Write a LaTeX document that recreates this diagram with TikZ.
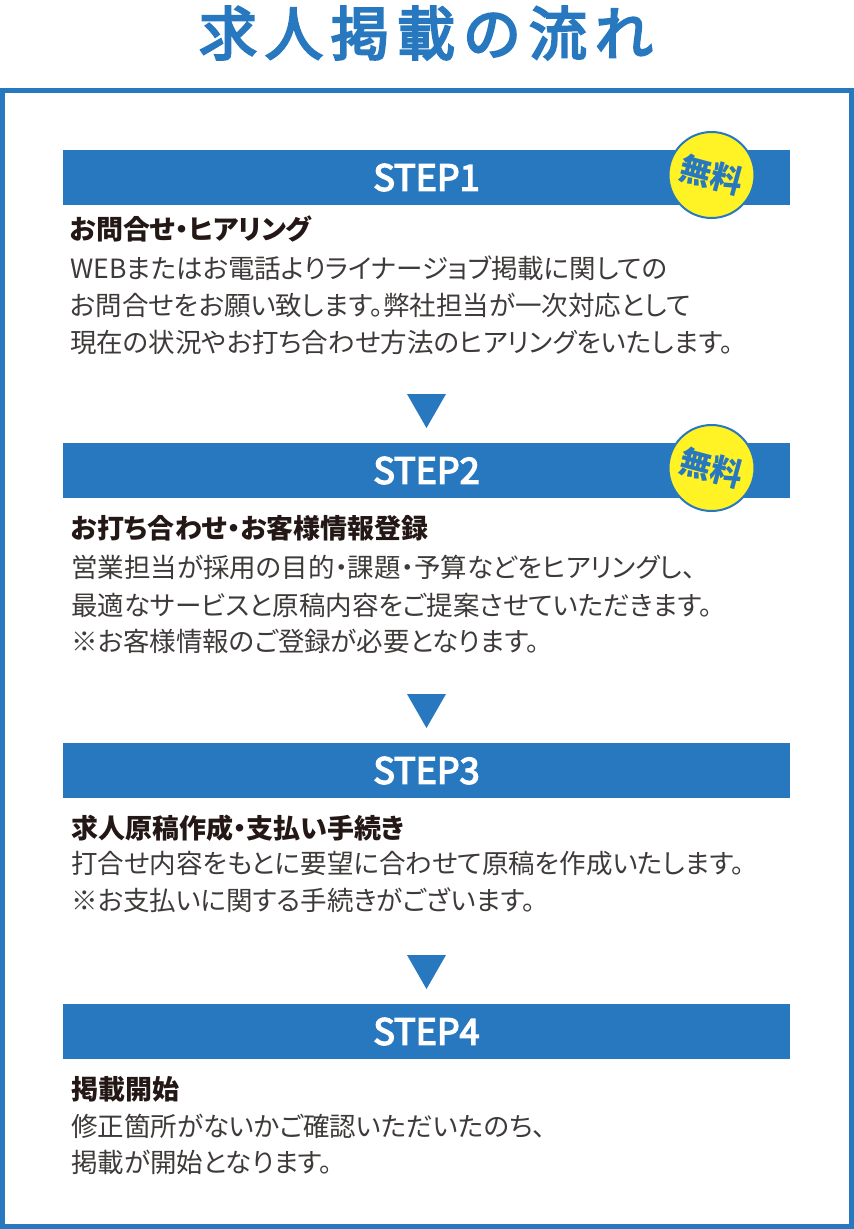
\documentclass[tikz,border=0pt]{standalone}
\usepackage{fontspec}
\setmainfont{Noto Sans CJK JP}[RawFeature={+palt}]
\newfontfamily\medfont[FakeBold=4]{Noto Sans CJK JP}
\definecolor{mblue}{HTML}{2878C0}
\definecolor{myellow}{HTML}{FFF225}
\definecolor{headcol}{HTML}{231815}
\definecolor{bodycol}{HTML}{3E3A39}
\newcommand{\tsp}{\hspace{8pt}}
\tikzset{
  stepbar/.style={fill=mblue},
  steplabel/.style={text=white, inner sep=0pt, font=\fontsize{36}{36}\medfont},
  badgecircle/.style={fill=myellow, draw=mblue, line width=2pt},
  badgetext/.style={inner sep=0pt, text=mblue, rotate=-15, font=\fontsize{32}{32}\selectfont\bfseries},
  heading/.style={anchor=west, inner sep=0pt, text=headcol, font=\fontsize{27}{27}\selectfont\bfseries},
  bodyline/.style={anchor=west, inner sep=0pt, text=bodycol, font=\fontsize{26.5}{26.5}\selectfont},
  arrowtri/.style={fill=mblue}
}
\begin{document}
\begin{tikzpicture}[x=1pt,y=-1pt]
\useasboundingbox (0,0) rectangle (854,1229);
\node[text=mblue, font=\fontsize{58}{58}\medfont, inner sep=0pt] (title) at (426,33) {求\tsp 人\tsp 掲\tsp 載\tsp の\tsp 流\tsp れ};
\draw[mblue, line width=5pt] (2.5,90.5) rectangle (851.5,1226.5);

% STEP 1
\fill[stepbar] (63,150) rectangle (790,205);
\node[steplabel] (l1) at (426.5,177.5) {STEP1};
\filldraw[badgecircle] (711.5,175) circle[radius=43];
\node[badgetext] (b1) at (711.5,175) {無料};
\node[heading] (h1) at (70,229) {お問合せ・ヒアリング};
\node[bodyline] (t11) at (70,268) {WEBまたはお電話よりライナージョブ掲載に関しての};
\node[bodyline] (t12) at (70,305) {お問合せをお願い致します。弊社担当が一次対応として};
\node[bodyline] (t13) at (70,342) {現在の状況やお打ち合わせ方法のヒアリングをいたします。};
\fill[arrowtri] (407,394) -- (446,394) -- (426.5,428) -- cycle;

% STEP 2
\fill[stepbar] (63,443) rectangle (790,498);
\node[steplabel] (l2) at (426.5,470.5) {STEP2};
\filldraw[badgecircle] (711.5,468) circle[radius=43];
\node[badgetext] (b2) at (711.5,468) {無料};
\node[heading] (h2) at (71,528) {お打ち合わせ・お客様情報登録};
\node[bodyline] (t21) at (71,567) {営業担当が採用の目的・課題・予算などをヒアリングし、};
\node[bodyline] (t22) at (71,605) {最適なサービスと原稿内容をご提案させていただきます。};
\node[bodyline] (t23) at (71,641) {※お客様情報のご登録が必要となります。};
\fill[arrowtri] (407,694) -- (446,694) -- (426.5,728) -- cycle;

% STEP 3
\fill[stepbar] (63,743) rectangle (790,798);
\node[steplabel] (l3) at (426.5,770.5) {STEP3};
\node[heading] (h3) at (71,828) {求人原稿作成・支払い手続き};
\node[bodyline] (t31) at (71,864) {打合せ内容をもとに要望に合わせて原稿を作成いたします。};
\node[bodyline] (t32) at (71,900) {※お支払いに関する手続きがございます。};
\fill[arrowtri] (407,955) -- (446,955) -- (426.5,989) -- cycle;

% STEP 4
\fill[stepbar] (63,1004) rectangle (790,1059);
\node[steplabel] (l4) at (426.5,1031.5) {STEP4};
\node[heading] (h4) at (71,1089) {掲載開始};
\node[bodyline] (t41) at (71,1126) {修正箇所がないかご確認いただいたのち、};
\node[bodyline] (t42) at (71,1162) {掲載が開始となります。};
\end{tikzpicture}
\end{document}
